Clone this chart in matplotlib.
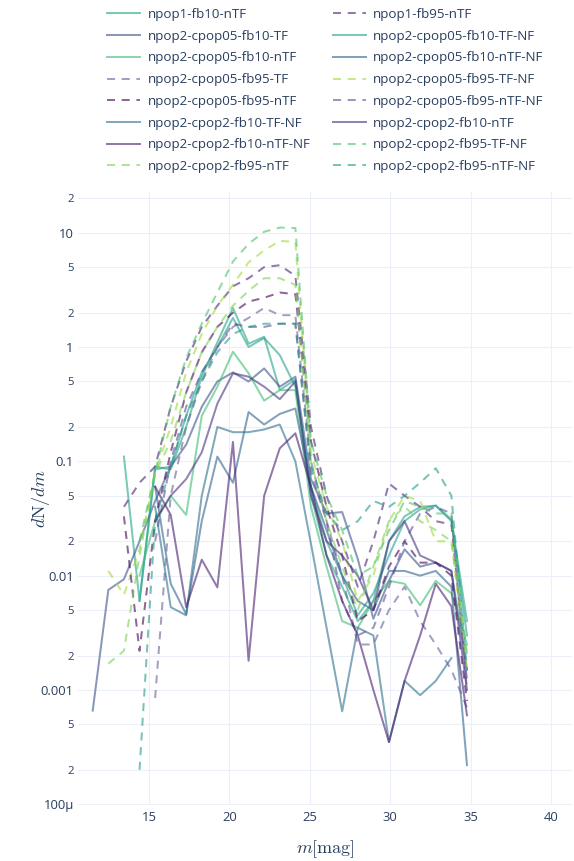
import matplotlib
matplotlib.use("Agg")
import matplotlib.pyplot as plt
import numpy as np
from matplotlib.ticker import FixedLocator, NullLocator

plt.rcParams.update({
    "font.family": ["Open Sans", "DejaVu Sans"],
    "mathtext.fontset": "cm",
})

# Magnitude bin centres
MAG = [11.50, 12.47, 13.44, 14.41, 15.38, 16.35, 17.31, 18.28, 19.25, 20.22,
       21.19, 22.16, 23.13, 24.10, 25.07, 26.04, 27.01, 27.98, 28.95, 29.92,
       30.89, 31.86, 32.83, 33.80, 34.77]
N = None

# dN/dm per run (fb10 = solid, fb95 = dashed)
npop1_fb10_nTF = [N, N, 0.11, 0.006, 0.09, 0.085, 0.2, 0.55, 1.1, 2.2, 1.07, 1.23, 0.42, 0.52,
                  0.05, 0.015, 0.008, 0.004, 0.006, 0.02, 0.033, 0.04, 0.041, 0.031, 0.004]
npop1_fb95_nTF = [N, N, 0.04, 0.065, 0.09, 0.3, 0.75, 1.5, 2.3, 3.4, 4.0, 5.0, 5.2, 4.2,
                  0.2, 0.05, 0.02, 0.008, 0.02, 0.064, 0.05, 0.04, 0.03, 0.028, 0.0012]
npop2_cpop05_fb10_TF = [0.00066, 0.0075, 0.0093, 0.02, 0.045, 0.09, 0.14, 0.3, 0.5, 0.6, 0.5, 0.65, 0.45, 0.55,
                        0.07, 0.035, 0.036, 0.014, 0.0042, 0.009, 0.017, 0.012, 0.013, 0.011, 0.0015]
npop2_cpop05_fb10_TF_NF = [N, N, N, 0.006, 0.085, 0.09, 0.25, 0.6, 1.0, 1.8, 1.0, 1.2, 0.85, 0.45,
                           0.06, 0.02, 0.01, 0.0045, 0.007, 0.015, 0.03, 0.038, 0.041, 0.03, 0.003]
npop2_cpop05_fb10_nTF = [N, N, N, 0.01, 0.03, 0.05, 0.034, 0.25, 0.45, 0.91, 0.59, 0.34, 0.42, 0.42,
                         0.04, 0.012, 0.004, 0.0035, 0.006, 0.009, 0.0085, 0.0055, 0.009, 0.007, 0.0025]
npop2_cpop05_fb10_nTF_NF = [N, N, N, N, 0.06, 0.0085, 0.0046, 0.03, 0.11, 0.065, 0.27, 0.21, 0.26, 0.29,
                            0.06, 0.025, 0.01, 0.006, 0.005, 0.011, 0.011, 0.01, 0.011, 0.008, 0.00022]
npop2_cpop05_fb95_TF = [N, N, N, N, 0.00085, 0.05, 0.2, 0.5, 1.0, 1.5, 1.8, 2.2, 1.9, 1.9,
                        0.1, 0.03, 0.01, 0.0025, 0.0025, 0.005, 0.008, 0.004, 0.0025, 0.0015, 0.0007]
npop2_cpop05_fb95_TF_NF = [N, 0.011, 0.0068, 0.017, 0.08, 0.2, 0.6, 1.3, 2.3, 3.5, 5.5, 7.0, 8.5, 8.3,
                           0.12, 0.04, 0.02, 0.006, 0.01, 0.03, 0.05, 0.045, 0.02, 0.02, 0.0015]
npop2_cpop05_fb95_nTF = [N, N, 0.033, 0.0022, 0.03, 0.12, 0.4, 0.9, 1.5, 2.0, 2.5, 2.7, 3.0, 2.9,
                         0.15, 0.04, 0.015, 0.004, 0.005, 0.012, 0.02, 0.013, 0.013, 0.01, 0.0008]
npop2_cpop05_fb95_nTF_NF = [N, N, N, N, 0.02, 0.1, 0.3, 0.6, 1.0, 1.6, 1.5, 1.5, 1.6, 1.6,
                            0.08, 0.03, 0.006, 0.003, 0.0035, 0.008, 0.02, 0.035, 0.04, 0.035, 0.001]
npop2_cpop2_fb10_TF_NF = [N, N, N, N, 0.04, 0.0053, 0.0045, 0.05, 0.2, 0.18, 0.18, 0.19, 0.21, 0.1,
                          0.019, 0.0035, 0.00065, 0.0035, 0.003, 0.00035, 0.0012, 0.0009, 0.0012, 0.0019, N]
npop2_cpop2_fb10_nTF = [N, N, N, N, 0.03, 0.05, 0.07, 0.12, 0.32, 0.59, 0.55, 0.45, 0.35, 0.5,
                        0.05, 0.02, 0.015, 0.01, 0.005, 0.02, 0.03, 0.015, 0.013, 0.011, 0.001]
npop2_cpop2_fb10_nTF_NF = [N, N, N, N, 0.06, 0.034, 0.0053, 0.0138, 0.0079, 0.148, 0.0018, 0.05, 0.13, 0.176,
                           0.06, 0.015, 0.006, 0.003, 0.001, 0.00035, 0.0012, 0.003, 0.0085, 0.0054, 0.0006]
npop2_cpop2_fb95_TF_NF = [N, N, N, 0.02, 0.08, 0.3, 0.8, 1.6, 3.0, 5.6, 8.0, 10.2, 11.1, 11.0,
                          0.15, 0.05, 0.025, 0.01, 0.012, 0.025, 0.045, 0.04, 0.035, 0.035, 0.002]
npop2_cpop2_fb95_nTF = [N, 0.0017, 0.0022, 0.015, 0.078, 0.15, 0.4, 0.9, 1.5, 2.3, 3.1, 4.0, 4.0, 3.5,
                        0.1, 0.03, 0.012, 0.005, 0.012, 0.03, 0.04, 0.03, 0.025, 0.02, 0.002]
npop2_cpop2_fb95_nTF_NF = [N, N, N, 0.0002, 0.03, 0.09, 0.25, 0.5, 0.9, 1.3, 1.5, 1.6, 1.6, 1.6,
                           0.09, 0.035, 0.025, 0.03, 0.045, 0.04, 0.05, 0.065, 0.087, 0.05, 0.0015]

# (label, values, colour) in trace order
SERIES = [
    ("npop1-fb10-nTF", npop1_fb10_nTF, "#21a585"),
    ("npop1-fb95-nTF", npop1_fb95_nTF, "#482173"),
    ("npop2-cpop05-fb10-TF", npop2_cpop05_fb10_TF, "#3b528b"),
    ("npop2-cpop05-fb10-TF-NF", npop2_cpop05_fb10_TF_NF, "#25a18e"),
    ("npop2-cpop05-fb10-nTF", npop2_cpop05_fb10_nTF, "#3fbc73"),
    ("npop2-cpop05-fb10-nTF-NF", npop2_cpop05_fb10_nTF_NF, "#33638d"),
    ("npop2-cpop05-fb95-TF", npop2_cpop05_fb95_TF, "#6a5d9c"),
    ("npop2-cpop05-fb95-TF-NF", npop2_cpop05_fb95_TF_NF, "#a2da37"),
    ("npop2-cpop05-fb95-nTF", npop2_cpop05_fb95_nTF, "#440154"),
    ("npop2-cpop05-fb95-nTF-NF", npop2_cpop05_fb95_nTF_NF, "#5d4f94"),
    ("npop2-cpop2-fb10-TF-NF", npop2_cpop2_fb10_TF_NF, "#2d708e"),
    ("npop2-cpop2-fb10-nTF", npop2_cpop2_fb10_nTF, "#463480"),
    ("npop2-cpop2-fb10-nTF-NF", npop2_cpop2_fb10_nTF_NF, "#481f70"),
    ("npop2-cpop2-fb95-TF-NF", npop2_cpop2_fb95_TF_NF, "#4ac16d"),
    ("npop2-cpop2-fb95-nTF", npop2_cpop2_fb95_nTF, "#7ad151"),
    ("npop2-cpop2-fb95-nTF-NF", npop2_cpop2_fb95_nTF_NF, "#1f9a8a"),
]

YTICKS = [1e-4, 2e-4, 5e-4, 1e-3, 2e-3, 5e-3, 1e-2, 2e-2, 5e-2, 0.1, 0.2, 0.5, 1, 2, 5, 10, 20]
YTICK_LABELS = ["100µ", "2", "5", "0.001", "2", "5", "0.01", "2", "5", "0.1", "2", "5",
                "1", "2", "5", "10", "2"]
XTICKS = [15, 20, 25, 30, 35, 40]

TEXT = "#2a3f5f"
GRID = "#ebf0f8"
W, H = 574, 861

fig = plt.figure(figsize=(W / 100, H / 100), dpi=100)
ax = fig.add_axes([78 / W, 1 - 805.4 / H, (572 - 78) / W, (805.4 - 191.6) / H])

handles = []
for label, vals, color in SERIES:
    y = np.array([np.nan if v is None else v for v in vals], dtype=float)
    style = "--" if "fb95" in label else "-"
    line, = ax.plot(MAG, y, linestyle=style, color=color, alpha=0.6, lw=1.45,
                    label=label)
    if style == "--":
        line.set_dashes((4, 3.3))
    handles.append(line)

ax.set_yscale("log")
ax.set_ylim(10 ** -4.01, 10 ** 1.36)
ax.set_xlim(10.585, 41.3)
ax.yaxis.set_major_locator(FixedLocator(YTICKS))
ax.yaxis.set_minor_locator(NullLocator())
ax.set_yticklabels(YTICK_LABELS)
ax.set_xticks(XTICKS)
ax.set_xticklabels([str(t) for t in XTICKS])
for lab in ax.get_yticklabels():
    lab.set_fontsize(9.4 if lab.get_text() not in ("2", "5") else 8.2)
for lab in ax.get_xticklabels():
    lab.set_fontsize(9.4)
ax.tick_params(length=0, colors=TEXT, pad=3)
ax.tick_params(axis="x", pad=4)
ax.grid(True, color=GRID, lw=0.75)
ax.set_axisbelow(True)
for s in ax.spines.values():
    s.set_visible(False)

ax.set_xlabel(r"$m[\mathrm{mag}]$", fontsize=13, color=TEXT, labelpad=10)
ax.set_ylabel(r"$d\mathrm{N}/dm$", fontsize=13, color=TEXT)
ax.yaxis.set_label_coords(-0.052, 0.5)

# two-column legend, rows read left to right
order = list(range(0, 16, 2)) + list(range(1, 16, 2))
leg = fig.legend([handles[i] for i in order], [SERIES[i][0] for i in order],
                 ncol=2, loc="upper left", bbox_to_anchor=(107 / W, 1 - 8 / H),
                 frameon=False, fontsize=9.6, handlelength=2.5, handletextpad=0.53,
                 columnspacing=1.7, labelspacing=0.655, borderpad=0, borderaxespad=0)
for t in leg.get_texts():
    t.set_color(TEXT)

fig.savefig("out.png", dpi=100)
